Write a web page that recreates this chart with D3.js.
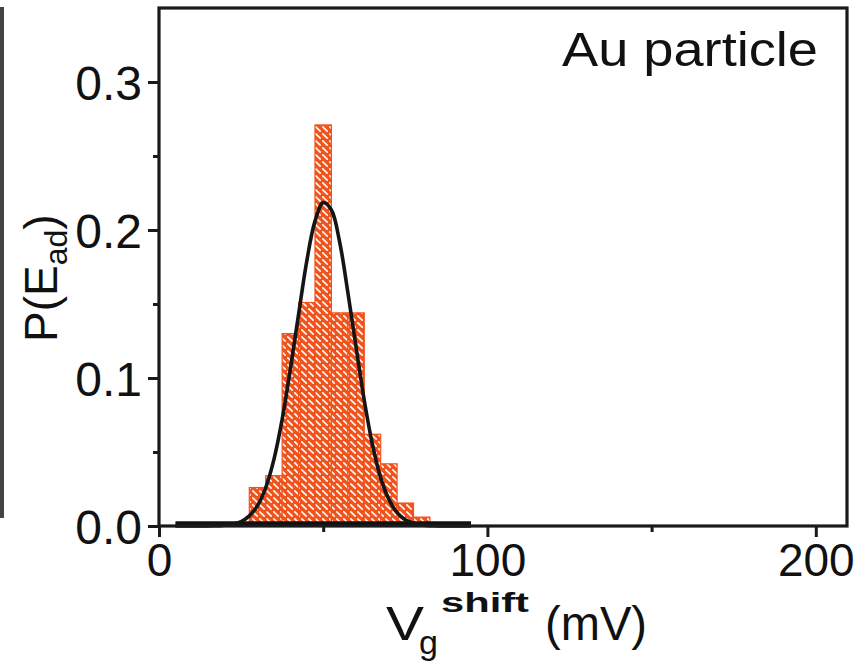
<!DOCTYPE html>
<html>
<head>
<meta charset="utf-8">
<script src="https://cdn.jsdelivr.net/npm/d3@7"></script>
<style>
  html, body { margin: 0; padding: 0; background: #fff; }
  svg { display: block; }
  text { font-family: "Liberation Sans", Arial, Helvetica, sans-serif; fill: #111; }
</style>
</head>
<body>
<svg id="chart" width="865" height="668"></svg>
<script>
// ---- data ----
const binCenters = [30, 35, 40, 45, 50, 55, 60, 65, 70, 75, 80];        // mV
const binValues  = [0.026, 0.034, 0.130, 0.151, 0.271, 0.144, 0.144, 0.062, 0.042, 0.0155, 0.006];
const binWidth = 5;

// Gaussian fit curve, read point by point
const fitX = [5, 10, 15, 20, 25, 27.5, 30, 32.5, 35, 37.5, 40, 42.5, 45, 47.5, 50, 52.5, 55, 57.5, 60, 62.5, 65, 67.5, 70, 72.5, 75, 80, 85, 90, 95];
const fitY = [0, 0, 0.0001, 0.0005, 0.003, 0.0068, 0.0138, 0.026, 0.045, 0.072, 0.106, 0.143, 0.179, 0.206, 0.2185, 0.2135, 0.192, 0.158, 0.121, 0.085, 0.055, 0.0325, 0.018, 0.009, 0.0042, 0.0007, 0.0001, 0, 0];

const xMajorTicks = [0, 100, 200];
const xMinorTicks = [50, 150];
const yMajorTicks = [0.0, 0.1, 0.2, 0.3];
const yMinorTicks = [0.05, 0.15, 0.25];
const panelLabel = "Au particle";

// ---- layout ----
const svg = d3.select("#chart");
const x = d3.scaleLinear().domain([0, 209.5]).range([159, 847]);
const y = d3.scaleLinear().domain([0, 0.35]).range([526, 8]);

// neighbouring panel border on the far left
svg.append("line")
  .attr("x1", 2).attr("x2", 2).attr("y1", 7).attr("y2", 518)
  .attr("stroke", "#444").attr("stroke-width", 4);

// hatch pattern
const defs = svg.append("defs");
const pat = defs.append("pattern")
  .attr("id", "hatch").attr("patternUnits", "userSpaceOnUse")
  .attr("width", 7).attr("height", 7);
pat.append("rect").attr("width", 7).attr("height", 7).attr("fill", "#f0531c");
pat.append("line").attr("x1", 0.8).attr("y1", 0.8).attr("x2", 5.2).attr("y2", 5.2)
  .attr("stroke", "#fff").attr("stroke-width", 1.7).attr("stroke-linecap", "round").attr("opacity", 0.92);

// bars
svg.append("g").selectAll("rect")
  .data(binCenters.map((c, i) => ({c, v: binValues[i]})))
  .join("rect")
  .attr("x", d => x(d.c - binWidth / 2))
  .attr("width", d => x(d.c + binWidth / 2) - x(d.c - binWidth / 2))
  .attr("y", d => y(d.v))
  .attr("height", d => y(0) - y(d.v))
  .attr("fill", "url(#hatch)")
  .attr("stroke", "#f0531c").attr("stroke-width", 1.2);

// thick black baseline under the fit range
svg.append("line")
  .attr("x1", x(d3.min(fitX))).attr("x2", x(d3.max(fitX)))
  .attr("y1", y(0) - 2.5).attr("y2", y(0) - 2.5)
  .attr("stroke", "#111").attr("stroke-width", 4.5);

// fit curve
const line = d3.line().x(d => x(d[0])).y(d => y(d[1])).curve(d3.curveCatmullRom);
svg.append("path")
  .datum(fitX.map((v, i) => [v, fitY[i]]))
  .attr("d", line)
  .attr("fill", "none").attr("stroke", "#151515").attr("stroke-width", 3.6)
  .attr("stroke-linejoin", "round");

// frame
svg.append("rect")
  .attr("x", x(0)).attr("y", y(0.35))
  .attr("width", x(209.5) - x(0)).attr("height", y(0) - y(0.35))
  .attr("fill", "none").attr("stroke", "#1a1a1a").attr("stroke-width", 3.2);

// x axis
const xAxis = d3.axisBottom(x).tickValues(xMajorTicks).tickSize(11).tickPadding(6).tickFormat(d3.format("d"));
const gx = svg.append("g").attr("transform", `translate(0,${y(0)})`).call(xAxis);
gx.select(".domain").remove();
gx.selectAll(".tick line").attr("stroke", "#1a1a1a").attr("stroke-width", 3);
gx.selectAll(".tick text").attr("font-size", 46).style("fill", "#111");
const xAxisMinor = d3.axisBottom(x).tickValues(xMinorTicks).tickSize(6).tickFormat("");
const gxm = svg.append("g").attr("transform", `translate(0,${y(0)})`).call(xAxisMinor);
gxm.select(".domain").remove();
gxm.selectAll(".tick line").attr("stroke", "#1a1a1a").attr("stroke-width", 3);

// y axis
const yAxis = d3.axisLeft(y).tickValues(yMajorTicks).tickSize(11).tickPadding(6).tickFormat(d3.format(".1f"));
const gy = svg.append("g").attr("transform", `translate(${x(0)},0)`).call(yAxis);
gy.select(".domain").remove();
gy.selectAll(".tick line").attr("stroke", "#1a1a1a").attr("stroke-width", 3);
gy.selectAll(".tick text").attr("font-size", 48).attr("dy", "0.36em").style("fill", "#111");
const yAxisMinor = d3.axisLeft(y).tickValues(yMinorTicks).tickSize(6).tickFormat("");
const gym = svg.append("g").attr("transform", `translate(${x(0)},0)`).call(yAxisMinor);
gym.select(".domain").remove();
gym.selectAll(".tick line").attr("stroke", "#1a1a1a").attr("stroke-width", 3);

// panel label
svg.append("text")
  .attr("x", 818).attr("y", 66).attr("text-anchor", "end")
  .attr("font-size", 48).attr("textLength", 256).attr("lengthAdjust", "spacingAndGlyphs")
  .text(panelLabel);

// y label
const yl = svg.append("text")
  .attr("transform", "translate(57,342) rotate(-90)")
  .attr("font-size", 46);
yl.append("tspan").text("P(E");
yl.append("tspan").attr("font-size", 32).attr("dy", 10).text("ad");
yl.append("tspan").attr("dy", -10).text(")");

// x label, pieces placed separately
const xlab = svg.append("g");
xlab.append("text").attr("x", 386).attr("y", 640).attr("font-size", 48)
  .attr("textLength", 38).attr("lengthAdjust", "spacingAndGlyphs").text("V");
xlab.append("text").attr("x", 419).attr("y", 654).attr("font-size", 34).text("g");
xlab.append("text").attr("x", 441).attr("y", 612).attr("font-size", 28).attr("font-weight", "bold")
  .attr("textLength", 88).attr("lengthAdjust", "spacingAndGlyphs").text("shift");
xlab.append("text").attr("x", 545).attr("y", 640).attr("font-size", 48)
  .attr("textLength", 102).attr("lengthAdjust", "spacingAndGlyphs").text("(mV)");
</script>
</body>
</html>
